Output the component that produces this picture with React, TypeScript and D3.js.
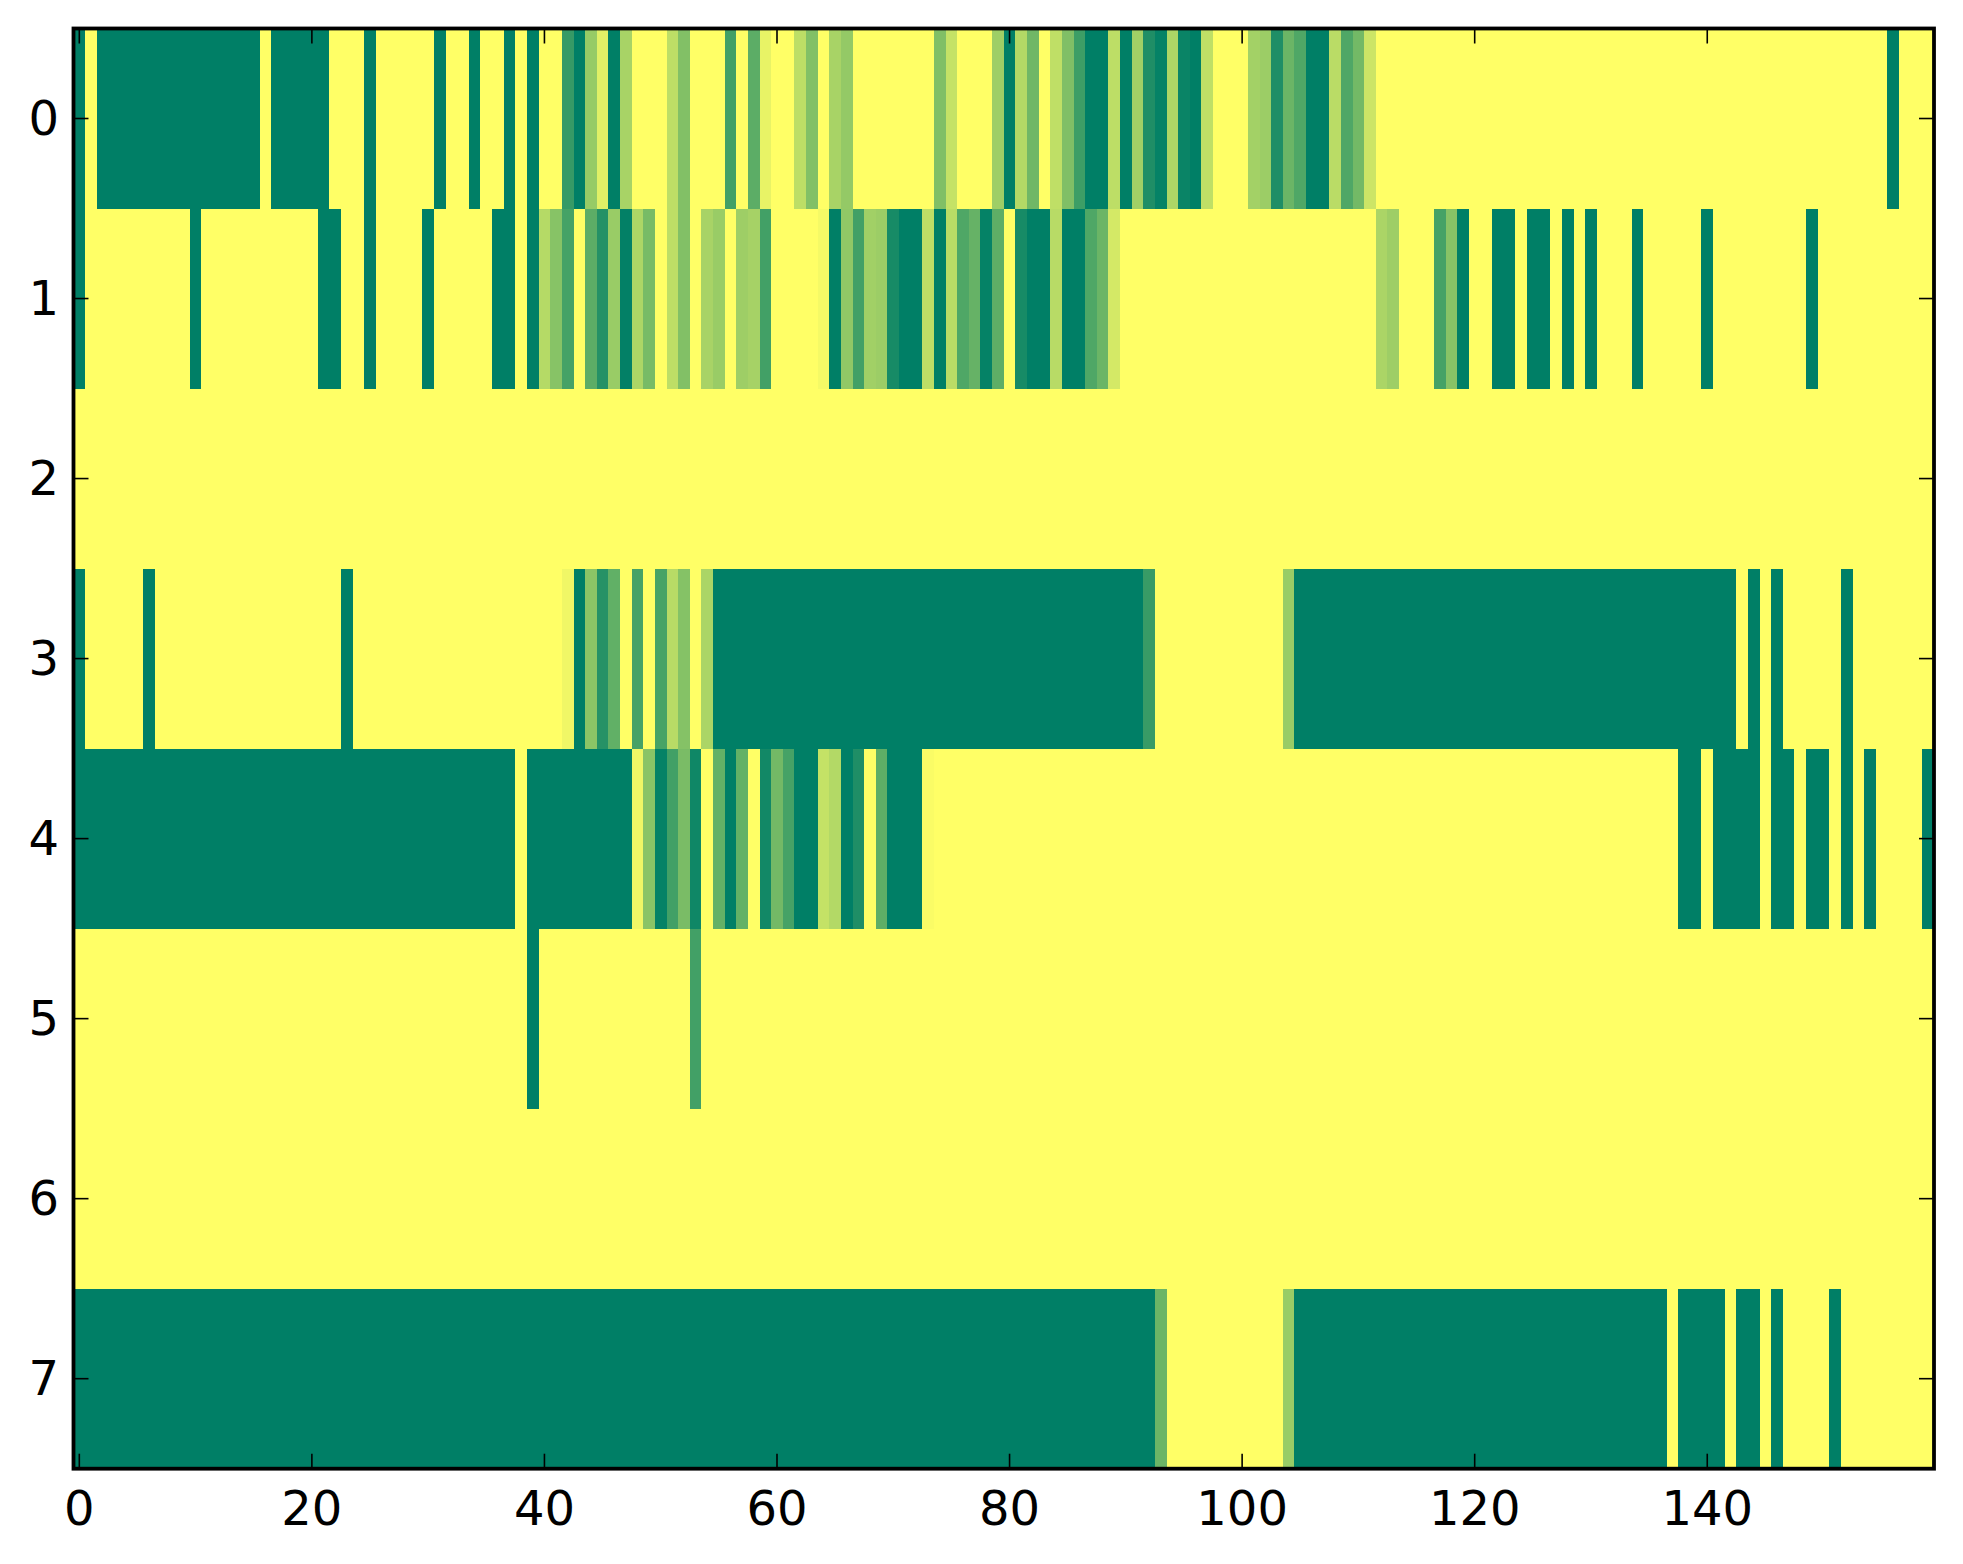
import { useEffect, useRef } from "react";
import * as d3 from "d3";

const WIDTH = 1963;
const HEIGHT = 1564;
const MARGIN = { top: 28.5, right: 29, bottom: 95.3, left: 73.5 };
const TICK_LENGTH = 15;
const FONT_SIZE = 48;

const xTicks = [0, 20, 40, 60, 80, 100, 120, 140];
const yTicks = [0, 1, 2, 3, 4, 5, 6, 7];

// summer_r style ramp: 0 is yellow, 1 is dark green
const colorStops = ["#ffff66", "#007f66"];

const row0 = [
  1, 0, 1, 1, 1, 1, 1, 1, 1, 1, 1, 1, 1, 1, 1, 1, 0, 1, 1, 1,
  1, 1, 0, 0, 0, 1, 0, 0, 0, 0, 0, 1, 0, 0, 1, 0, 0, 1, 0, 1,
  0, 0, 0.79, 1, 0.41, 0.12, 1, 0.34, 0, 0, 0, 0.26, 0.49, 0, 0, 0, 0.74, 0, 0.64, 0.09,
  0, 0, 0.26, 0.49, 0, 0.34, 0.42, 0, 0, 0, 0, 0, 0, 0, 0.5, 0.23, 0, 0, 0, 0.38,
  1, 0.3, 0.56, 0, 0.25, 0.5, 0.76, 1, 1, 0.26, 1, 0.37, 0.88, 0.98, 0.32, 0.96, 1, 0.25, 0, 0,
  0, 0.36, 0.39, 0.88, 0.58, 0.69, 1, 1, 0.27, 0.69, 0.55, 0.2, 0, 0, 0, 0, 0, 0, 0, 0,
  0, 0, 0, 0, 0, 0, 0, 0, 0, 0, 0, 0, 0, 0, 0, 0, 0, 0, 0, 0,
  0, 0, 0, 0, 0, 0, 0, 0, 0, 0, 0, 0, 0, 0, 0, 0, 1, 0, 0, 0,
];
const row1 = [
  1, 0, 0, 0, 0, 0, 0, 0, 0, 0, 1, 0, 0, 0, 0, 0, 0, 0, 0, 0,
  0, 1, 1, 0, 0, 1, 0, 0, 0, 0, 1, 0, 0, 0, 0, 0, 1, 1, 0, 1,
  0.29, 0.47, 0.73, 0, 0.64, 0.86, 0.4, 0.99, 0.32, 0.53, 0, 0.26, 0.49, 0, 0.34, 0.4, 0, 0.38, 0.35, 0.74,
  0, 0, 0, 0, 0.04, 1, 0.43, 0.74, 0.37, 0.39, 0.91, 1, 1, 0.26, 1, 0.27, 0.69, 0.6, 0.98, 0.63,
  0, 0.91, 1, 1, 0.28, 1, 1, 0.69, 0.58, 0.17, 0, 0, 0, 0, 0, 0, 0, 0, 0, 0,
  0, 0, 0, 0, 0, 0, 0, 0, 0, 0, 0, 0, 0.33, 0.38, 0, 0, 0, 0.73, 0.47, 1,
  0, 0, 1, 1, 0, 1, 1, 0, 1, 0, 1, 0, 0, 0, 1, 0, 0, 0, 0, 0,
  1, 0, 0, 0, 0, 0, 0, 0, 0, 1, 0, 0, 0, 0, 0, 0, 0, 0, 0, 0,
];
const row2 = [
  0, 0, 0, 0, 0, 0, 0, 0, 0, 0, 0, 0, 0, 0, 0, 0, 0, 0, 0, 0,
  0, 0, 0, 0, 0, 0, 0, 0, 0, 0, 0, 0, 0, 0, 0, 0, 0, 0, 0, 0,
  0, 0, 0, 0, 0, 0, 0, 0, 0, 0, 0, 0, 0, 0, 0, 0, 0, 0, 0, 0,
  0, 0, 0, 0, 0, 0, 0, 0, 0, 0, 0, 0, 0, 0, 0, 0, 0, 0, 0, 0,
  0, 0, 0, 0, 0, 0, 0, 0, 0, 0, 0, 0, 0, 0, 0, 0, 0, 0, 0, 0,
  0, 0, 0, 0, 0, 0, 0, 0, 0, 0, 0, 0, 0, 0, 0, 0, 0, 0, 0, 0,
  0, 0, 0, 0, 0, 0, 0, 0, 0, 0, 0, 0, 0, 0, 0, 0, 0, 0, 0, 0,
  0, 0, 0, 0, 0, 0, 0, 0, 0, 0, 0, 0, 0, 0, 0, 0, 0, 0, 0, 0,
];
const row3 = [
  1, 0, 0, 0, 0, 0, 1, 0, 0, 0, 0, 0, 0, 0, 0, 0, 0, 0, 0, 0,
  0, 0, 0, 1, 0, 0, 0, 0, 0, 0, 0, 0, 0, 0, 0, 0, 0, 0, 0, 0,
  0, 0, 0.06, 1, 0.45, 0.85, 0.62, 0, 0.73, 0, 0.72, 0.28, 0.48, 0, 0.33, 1, 1, 1, 1, 1,
  1, 1, 1, 1, 1, 1, 1, 1, 1, 1, 1, 1, 1, 1, 1, 1, 1, 1, 1, 1,
  1, 1, 1, 1, 1, 1, 1, 1, 1, 1, 1, 1, 0.78, 0, 0, 0, 0, 0, 0, 0,
  0, 0, 0, 0, 0.4, 1, 1, 1, 1, 1, 1, 1, 1, 1, 1, 1, 1, 1, 1, 1,
  1, 1, 1, 1, 1, 1, 1, 1, 1, 1, 1, 1, 1, 1, 1, 1, 1, 1, 1, 1,
  1, 1, 1, 0, 1, 0, 1, 0, 0, 0, 0, 0, 1, 0, 0, 0, 0, 0, 0, 0,
];
const row4 = [
  1, 1, 1, 1, 1, 1, 1, 1, 1, 1, 1, 1, 1, 1, 1, 1, 1, 1, 1, 1,
  1, 1, 1, 1, 1, 1, 1, 1, 1, 1, 1, 1, 1, 1, 1, 1, 1, 1, 0, 1,
  1, 1, 1, 1, 1, 1, 1, 1, 0.06, 0.46, 0.98, 0.74, 0.52, 0.94, 0, 0.61, 1, 0.61, 0, 0.93,
  0.55, 0.73, 1, 1, 0.23, 0.3, 1, 0.88, 0, 0.63, 1, 1, 1, 0.02, 0, 0, 0, 0, 0, 0,
  0, 0, 0, 0, 0, 0, 0, 0, 0, 0, 0, 0, 0, 0, 0, 0, 0, 0, 0, 0,
  0, 0, 0, 0, 0, 0, 0, 0, 0, 0, 0, 0, 0, 0, 0, 0, 0, 0, 0, 0,
  0, 0, 0, 0, 0, 0, 0, 0, 0, 0, 0, 0, 0, 0, 0, 0, 0, 0, 1, 1,
  0, 1, 1, 1, 1, 0, 1, 1, 0, 1, 1, 0, 1, 0, 1, 0, 0, 0, 0, 1,
];
const row5 = [
  0, 0, 0, 0, 0, 0, 0, 0, 0, 0, 0, 0, 0, 0, 0, 0, 0, 0, 0, 0,
  0, 0, 0, 0, 0, 0, 0, 0, 0, 0, 0, 0, 0, 0, 0, 0, 0, 0, 0, 1,
  0, 0, 0, 0, 0, 0, 0, 0, 0, 0, 0, 0, 0, 0.74, 0, 0, 0, 0, 0, 0,
  0, 0, 0, 0, 0, 0, 0, 0, 0, 0, 0, 0, 0, 0, 0, 0, 0, 0, 0, 0,
  0, 0, 0, 0, 0, 0, 0, 0, 0, 0, 0, 0, 0, 0, 0, 0, 0, 0, 0, 0,
  0, 0, 0, 0, 0, 0, 0, 0, 0, 0, 0, 0, 0, 0, 0, 0, 0, 0, 0, 0,
  0, 0, 0, 0, 0, 0, 0, 0, 0, 0, 0, 0, 0, 0, 0, 0, 0, 0, 0, 0,
  0, 0, 0, 0, 0, 0, 0, 0, 0, 0, 0, 0, 0, 0, 0, 0, 0, 0, 0, 0,
];
const row6 = [
  0, 0, 0, 0, 0, 0, 0, 0, 0, 0, 0, 0, 0, 0, 0, 0, 0, 0, 0, 0,
  0, 0, 0, 0, 0, 0, 0, 0, 0, 0, 0, 0, 0, 0, 0, 0, 0, 0, 0, 0,
  0, 0, 0, 0, 0, 0, 0, 0, 0, 0, 0, 0, 0, 0, 0, 0, 0, 0, 0, 0,
  0, 0, 0, 0, 0, 0, 0, 0, 0, 0, 0, 0, 0, 0, 0, 0, 0, 0, 0, 0,
  0, 0, 0, 0, 0, 0, 0, 0, 0, 0, 0, 0, 0, 0, 0, 0, 0, 0, 0, 0,
  0, 0, 0, 0, 0, 0, 0, 0, 0, 0, 0, 0, 0, 0, 0, 0, 0, 0, 0, 0,
  0, 0, 0, 0, 0, 0, 0, 0, 0, 0, 0, 0, 0, 0, 0, 0, 0, 0, 0, 0,
  0, 0, 0, 0, 0, 0, 0, 0, 0, 0, 0, 0, 0, 0, 0, 0, 0, 0, 0, 0,
];
const row7 = [
  1, 1, 1, 1, 1, 1, 1, 1, 1, 1, 1, 1, 1, 1, 1, 1, 1, 1, 1, 1,
  1, 1, 1, 1, 1, 1, 1, 1, 1, 1, 1, 1, 1, 1, 1, 1, 1, 1, 1, 1,
  1, 1, 1, 1, 1, 1, 1, 1, 1, 1, 1, 1, 1, 1, 1, 1, 1, 1, 1, 1,
  1, 1, 1, 1, 1, 1, 1, 1, 1, 1, 1, 1, 1, 1, 1, 1, 1, 1, 1, 1,
  1, 1, 1, 1, 1, 1, 1, 1, 1, 1, 1, 1, 1, 0.58, 0, 0, 0, 0, 0, 0,
  0, 0, 0, 0, 0.4, 1, 1, 1, 1, 1, 1, 1, 1, 1, 1, 1, 1, 1, 1, 1,
  1, 1, 1, 1, 1, 1, 1, 1, 1, 1, 1, 1, 1, 1, 1, 1, 1, 0, 1, 1,
  1, 1, 0, 1, 1, 0, 1, 0, 0, 0, 0, 1, 0, 0, 0, 0, 0, 0, 0, 0,
];
const rows = [row0, row1, row2, row3, row4, row5, row6, row7];

export default function App() {
  const ref = useRef<SVGSVGElement>(null);

  useEffect(() => {
    const svg = d3.select(ref.current);
    svg.selectAll("*").remove();

    const right = WIDTH - MARGIN.right;
    const bottom = HEIGHT - MARGIN.bottom;
    const xScale = d3.scaleLinear().domain([-0.5, 159.5]).range([MARGIN.left, right]);
    const yScale = d3.scaleLinear().domain([-0.5, 7.5]).range([MARGIN.top, bottom]);
    const color = d3.scaleLinear<string>().domain([0, 1]).range(colorStops);

    // the cells
    const cells = svg.append("g").attr("shape-rendering", "crispEdges");
    rows.forEach((row, r) => {
      cells
        .append("g")
        .selectAll("rect")
        .data(row)
        .join("rect")
        .attr("x", (_, i) => xScale(i - 0.5))
        .attr("y", yScale(r - 0.5))
        .attr("width", xScale(1) - xScale(0) + 0.5)
        .attr("height", yScale(1) - yScale(0) + 0.5)
        .attr("fill", (d) => color(d));
    });

    // ticks point inward on all four sides
    const ticks = svg.append("g").attr("stroke", "#000").attr("stroke-width", 1.6);
    xTicks.forEach((t) => {
      ticks.append("line").attr("x1", xScale(t)).attr("x2", xScale(t)).attr("y1", bottom).attr("y2", bottom - TICK_LENGTH);
      ticks.append("line").attr("x1", xScale(t)).attr("x2", xScale(t)).attr("y1", MARGIN.top).attr("y2", MARGIN.top + TICK_LENGTH);
    });
    yTicks.forEach((t) => {
      ticks.append("line").attr("y1", yScale(t)).attr("y2", yScale(t)).attr("x1", MARGIN.left).attr("x2", MARGIN.left + TICK_LENGTH);
      ticks.append("line").attr("y1", yScale(t)).attr("y2", yScale(t)).attr("x1", right).attr("x2", right - TICK_LENGTH);
    });

    svg
      .append("rect")
      .attr("x", MARGIN.left)
      .attr("y", MARGIN.top)
      .attr("width", right - MARGIN.left)
      .attr("height", bottom - MARGIN.top)
      .attr("fill", "none")
      .attr("stroke", "#000")
      .attr("stroke-width", 3.8);

    const labels = svg
      .append("g")
      .attr("font-family", "'DejaVu Sans'")
      .attr("font-size", FONT_SIZE)
      .attr("fill", "#000");
    labels
      .selectAll("text.x")
      .data(xTicks)
      .join("text")
      .attr("class", "x")
      .attr("x", (d) => xScale(d))
      .attr("y", 1525)
      .attr("text-anchor", "middle")
      .text((d) => d);
    labels
      .selectAll("text.y")
      .data(yTicks)
      .join("text")
      .attr("class", "y")
      .attr("x", 59)
      .attr("y", (d) => yScale(d) + 16)
      .attr("text-anchor", "end")
      .text((d) => d);
  }, []);

  return (
    <svg
      ref={ref}
      width={WIDTH}
      height={HEIGHT}
      style={{ position: "absolute", left: 0, top: 0, display: "block", background: "#fff" }}
    />
  );
}
